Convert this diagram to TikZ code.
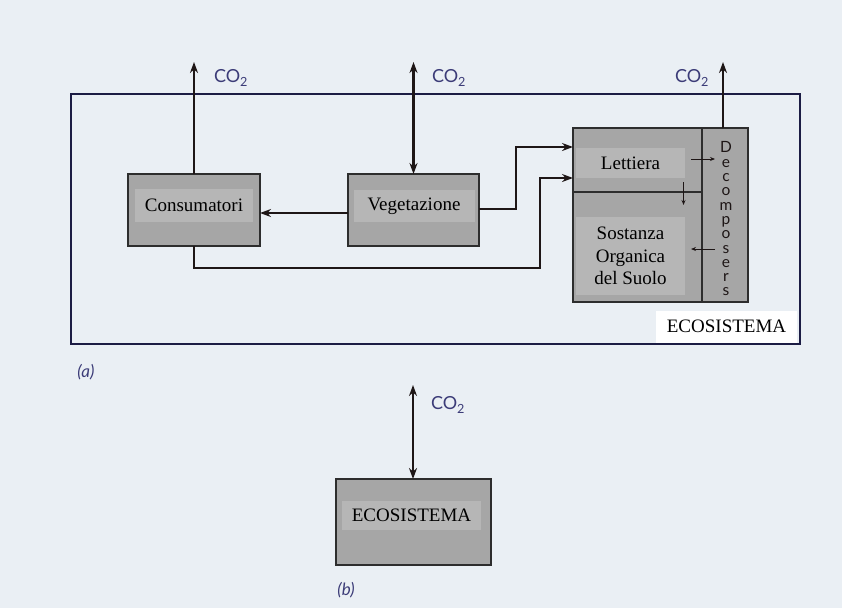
\documentclass[tikz,border=0pt]{standalone}
\usepackage{fontspec}
\setmainfont{Liberation Serif}
\newfontfamily\labfont{Lato}
\usetikzlibrary{arrows.meta}
\definecolor{bg}{RGB}{234,239,244}
\definecolor{boxgray}{RGB}{166,166,166}
\definecolor{innergray}{RGB}{182,182,182}
\definecolor{navy}{RGB}{28,28,68}
\definecolor{labblue}{RGB}{60,60,120}
\definecolor{ink}{RGB}{30,22,22}
\definecolor{edge}{RGB}{45,45,45}
\begin{document}
\begin{tikzpicture}[x=1pt,y=-1pt,
  box/.style={draw=edge, line width=1.2pt, fill=boxgray, inner sep=0pt, outer sep=0pt},
  innerbox/.style={fill=innergray, inner sep=0pt, font=\fontsize{19}{22.5}\selectfont, align=center},
  flow/.style={draw=ink, line width=2.8pt, -{Stealth[length=11pt,width=8pt]}},
  flowtwo/.style={draw=ink, line width=2.8pt, {Stealth[length=11pt,width=8pt]}-{Stealth[length=11pt,width=8pt]}},
  thinflow/.style={draw=ink, line width=1pt, -{Stealth[length=5pt,width=4pt]}},
  colabel/.style={font=\labfont\fontsize{18}{20}\selectfont, text=labblue, inner sep=0pt},
  partlabel/.style={font=\labfont\itshape\fontsize{17}{20}\selectfont, text=labblue, inner sep=0pt}
]
\useasboundingbox (0,0) rectangle (842,608);
\fill[bg] (0,0) rectangle (842,608);

% outer ecosystem frame
\node[draw=navy, line width=2pt, minimum width=729pt, minimum height=250pt, inner sep=0pt] (eco) at (435.5,219) {};
\node[fill=white, inner sep=0pt, minimum width=141pt, minimum height=32pt, font=\fontsize{19}{21}\selectfont] (ecolab) at (726.5,326.5) {ECOSISTEMA};

% boxes
\node[box, minimum width=132pt, minimum height=72pt] (cons) at (194,210) {};
\node[innerbox, minimum width=118pt, minimum height=33pt] (constext) at (194,205.5) {Consumatori};
\node[box, minimum width=131pt, minimum height=72pt] (veg) at (413.5,210) {};
\node[innerbox, minimum width=121pt, minimum height=32pt] (vegtext) at (414,206) {Vegetazione};

\node[box, minimum width=129pt, minimum height=64pt] (lett) at (637.5,160) {};
\node[box, minimum width=129pt, minimum height=110pt] (soil) at (637.5,247) {};
\node[box, minimum width=46pt, minimum height=174pt] (decomp) at (725,215) {};
\node[innerbox, minimum width=109pt, minimum height=30pt] (lettext) at (630.5,163) {Lettiera};
\node[innerbox, minimum width=109pt, minimum height=78pt] (soiltext) at (630.5,256) {Sostanza\\Organica\\del Suolo};
\node[font=\labfont\fontsize{15.5}{14.3}\selectfont, align=center, inner sep=0pt, text=ink] (declab) at (726,219) {D\\e\\c\\o\\m\\p\\o\\s\\e\\r\\s};

% CO2 exchanges
\draw[flow] (cons.north) -- ++(0,-112) coordinate (consup);
\node[colabel] (co2a) at (231,78) {CO\textsubscript{2}};
\draw[flowtwo] (veg.north) -- ++(0,-112) coordinate (vegup);
\node[colabel] (co2b) at (449,78) {CO\textsubscript{2}};
\draw[flow] ([xshift=-2pt]decomp.north) -- ++(0,-66) coordinate (decup);
\node[colabel] (co2c) at (692,78) {CO\textsubscript{2}};

% internal flows
\draw[flow] ([yshift=-3pt]veg.west) -- ([yshift=-3pt]cons.east);
\draw[flow] ([yshift=1pt]veg.east) -- ++(37,0) |- ([yshift=13pt]lett.west);
\draw[flow] (cons.south) |- ++(346,22) |- ([yshift=-18pt]lett.west);

% small arrows in litter/soil block
\draw[thinflow] ([xshift=-11pt,yshift=1pt]lett.east) -- ([xshift=13pt,yshift=1pt]lett.east);
\draw[thinflow] ([xshift=46pt,yshift=10pt]soil.north) -- ([xshift=46pt,yshift=-13pt]soil.north);
\draw[thinflow] ([xshift=13pt,yshift=-2pt]soil.east) -- ([xshift=-11pt,yshift=-2pt]soil.east);

% part labels
\node[partlabel] (pa) at (86,372) {(a)};
\node[partlabel] (pb) at (346,590) {(b)};

% part (b)
\node[box, minimum width=155pt, minimum height=86pt] (ecob) at (413.5,522) {};
\node[innerbox, minimum width=139pt, minimum height=29pt] (ecobtext) at (411.5,515.5) {ECOSISTEMA};
\draw[flowtwo] ([xshift=-0.5pt]ecob.north) -- ++(0,-94) coordinate (ecobup);
\node[colabel] (co2d) at (448,405) {CO\textsubscript{2}};
\end{tikzpicture}
\end{document}
